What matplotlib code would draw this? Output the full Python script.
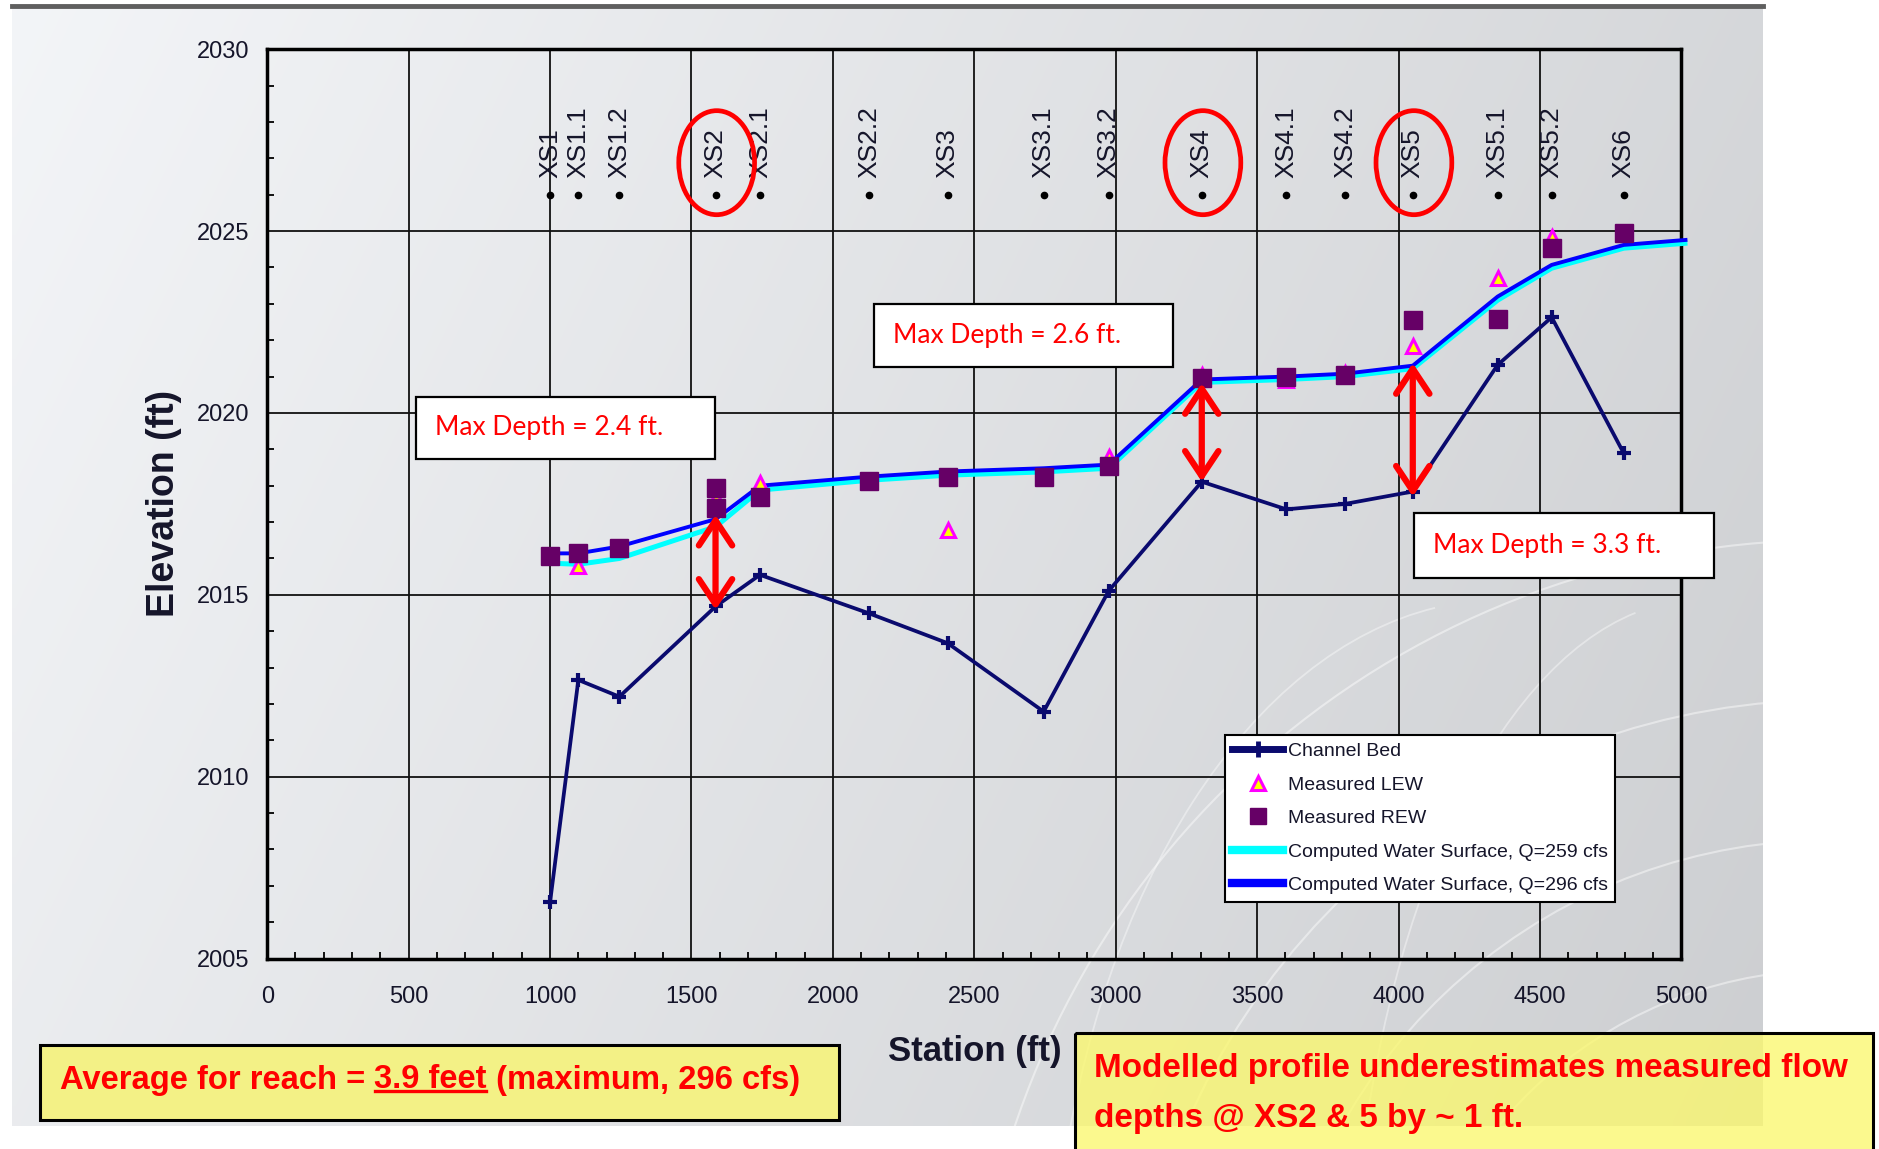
import numpy as np
import matplotlib
matplotlib.use("Agg")
import matplotlib.pyplot as plt
from matplotlib import font_manager
from matplotlib.patches import Rectangle, Ellipse, FancyArrowPatch, Arc, ArrowStyle
from matplotlib.lines import Line2D
from matplotlib.ticker import MultipleLocator

W, H = 1879, 1149

# cross sections: station (ft) and name
stations = [1000, 1100, 1245, 1585, 1742, 2128, 2406, 2745, 2975,
            3304, 3603, 3811, 4050, 4350, 4541, 4796]
xs_labels = ["XS1", "XS1.1", "XS1.2", "XS2", "XS2.1", "XS2.2", "XS3", "XS3.1", "XS3.2",
             "XS4", "XS4.1", "XS4.2", "XS5", "XS5.1", "XS5.2", "XS6"]

# channel bed elevation (ft)
bed_elev = [2006.55, 2012.66, 2012.20, 2014.68, 2015.55, 2014.49, 2013.67, 2011.79, 2015.11,
            2018.11, 2017.35, 2017.50, 2017.84, 2021.32, 2022.63, 2018.89]

# computed water surface profiles (last point is just past 5000 ft)
ws_stations = stations + [5021]
ws_296 = [2016.14, 2016.14, 2016.33, 2017.08, 2018.00, 2018.25, 2018.39, 2018.48, 2018.58,
          2020.92, 2021.00, 2021.08, 2021.30, 2023.20, 2024.07, 2024.62, 2024.76]
ws_259 = [2015.87, 2015.84, 2016.00, 2016.87, 2017.88, 2018.15, 2018.29, 2018.38, 2018.48,
          2020.84, 2020.92, 2021.00, 2021.22, 2023.10, 2023.98, 2024.53, 2024.67]

# measured right / left edge of water
rew_sta = [1000, 1100, 1245, 1585, 1585, 1742, 2128, 2406, 2745, 2975,
           3304, 3603, 3811, 4050, 4350, 4541, 4796]
rew_elev = [2016.07, 2016.14, 2016.28, 2017.95, 2017.40, 2017.68, 2018.14, 2018.25, 2018.25, 2018.54,
            2020.95, 2021.00, 2021.04, 2022.56, 2022.58, 2024.53, 2024.94]
lew_sta = [1100, 1585, 1742, 2406, 2975, 3304, 3603, 3811, 4050, 4350, 4541]
lew_elev = [2015.80, 2017.65, 2018.07, 2016.78, 2018.80, 2021.05, 2020.90, 2021.10,
            2021.84, 2023.70, 2024.85]

# max depth call-outs
depth_sta = [1585, 3304, 4050]
depth_top = [2017.20, 2020.82, 2021.37]
depth_bot = [2014.59, 2018.11, 2017.70]
depth_text = ["Max Depth = 2.4 ft.", "Max Depth = 2.6 ft.", "Max Depth = 3.3 ft."]
circled = ["XS2", "XS4", "XS5"]

BED = "#0a0a6e"
REW = "#660066"
INK = "#15152a"

installed = {f.name for f in font_manager.fontManager.ttflist}
HAS_NARROW = "Liberation Sans Narrow" in installed
NARROW = "Liberation Sans Narrow" if HAS_NARROW else "Liberation Sans"
plt.rcParams["font.family"] = ["Liberation Sans", "DejaVu Sans"]

fig = plt.figure(figsize=(W / 100, H / 100), dpi=100)
fig.patch.set_facecolor("white")

# ---- slide background panel ----
bg = fig.add_axes([0, 0, 1, 1], zorder=-5)
yy, xx = np.mgrid[0:1:120j, 0:1:240j]
g = 0.965 - 0.115 * xx - 0.035 * yy
img = np.dstack([g - 0.012, g - 0.005, g + 0.006]).clip(0, 1)
bg.imshow(img, extent=(12, 1763, 1126, 6), aspect="auto", interpolation="bilinear")
for r in (430, 560, 700, 860):
    bg.add_patch(Arc((1830, 1400), 2 * r, 2 * r, theta1=185, theta2=268,
                     color="white", lw=1.5, alpha=0.45))
for cx, w in ((1500, 900), (1700, 700)):
    bg.add_patch(Arc((cx, 1350), w, 1500, theta1=200, theta2=265,
                     color="white", lw=1.3, alpha=0.4))
bg.plot([12, 1763], [6, 6], color="#5f5f5f", lw=3.5)
bg.set_xlim(0, W)
bg.set_ylim(H, 0)
bg.axis("off")

# ---- main chart ----
ax = fig.add_axes([267.2 / W, 1 - 958.6 / H, 1414.3 / W, 909.4 / H])
ax.set_facecolor("none")

ax.plot(stations, bed_elev, color=BED, lw=2.7, marker="+", ms=10, mew=3, zorder=3)
ax.plot(ws_stations, ws_259, color="cyan", lw=3.6, zorder=4, clip_on=False,
        solid_capstyle="butt")
ax.plot(ws_stations, ws_296, color="blue", lw=2.8, zorder=5, clip_on=False,
        solid_capstyle="butt")
ax.plot(lew_sta, lew_elev, ls="none", marker="^", ms=10, mfc="yellow", mec="magenta",
        mew=2.2, zorder=6)
ax.plot(rew_sta, rew_elev, ls="none", marker="s", ms=12.5, color=REW, zorder=7)

# cross-section labels along the top
for s, lab in zip(stations, xs_labels):
    ax.plot(s, 2026.0, marker="o", ms=4.5, color="black", zorder=5)
    ax.text(s, 2026.45, lab, rotation=90, ha="center", va="bottom", fontsize=19,
            color=INK, zorder=5)
    if lab in circled:
        ax.add_patch(Ellipse((s + 4, 2026.88), 268, 2.86, fill=False, ec="red",
                             lw=3.4, zorder=8))

# depth arrows
for s, top, bot in zip(depth_sta, depth_top, depth_bot):
    ax.add_patch(FancyArrowPatch((s, bot), (s, top),
                                 arrowstyle=ArrowStyle("<->", head_length=1.8, head_width=1.2),
                                 mutation_scale=10, color="red", lw=4.5,
                                 shrinkA=0, shrinkB=0, capstyle="round",
                                 joinstyle="round", zorder=9))

ax.set_xlim(0, 5000)
ax.set_ylim(2005, 2030)
ax.set_xticks(range(0, 5001, 500))
ax.set_yticks(range(2005, 2031, 5))
ax.xaxis.set_minor_locator(MultipleLocator(100))
ax.yaxis.set_minor_locator(MultipleLocator(1))
tick_fs = 20 if HAS_NARROW else 17
ax.tick_params(which="major", length=0, labelsize=tick_fs, labelcolor=INK)
ax.tick_params(axis="x", which="major", pad=20)
ax.tick_params(axis="y", which="major", pad=13)
ax.tick_params(which="minor", direction="in", length=5, width=1.3,
               top=False, right=False, color="black")
for lab in ax.get_xticklabels() + ax.get_yticklabels():
    lab.set_family(NARROW)
ax.grid(True, which="major", color="#111111", lw=1.3)
for sp in ax.spines.values():
    sp.set_linewidth(2.5)
    sp.set_color("black")

ax.set_xlabel("Station (ft)", fontsize=25, fontweight="bold", color=INK)
ax.xaxis.set_label_coords(0.5, (958.6 - 1052) / 909.4)
ax.xaxis.label.set_va("center")
ax.set_ylabel("Elevation (ft)", fontsize=27, fontweight="bold", color=INK)
ax.yaxis.set_label_coords((164 - 267.2) / 1414.3, 0.5)
ax.yaxis.label.set_va("center")

handles = [
    Line2D([], [], color=BED, lw=5, marker="+", ms=12, mew=3.5),
    Line2D([], [], ls="none", marker="^", ms=10, mfc="yellow", mec="magenta", mew=2.2),
    Line2D([], [], ls="none", marker="s", ms=12, color=REW),
    Line2D([], [], color="cyan", lw=6),
    Line2D([], [], color="blue", lw=6),
]
labels = ["Channel Bed", "Measured LEW", "Measured REW",
          "Computed Water Surface, Q=259 cfs", "Computed Water Surface, Q=296 cfs"]
leg = ax.legend(handles, labels, loc="upper left", bbox_to_anchor=(1225 / W, 1 - 735 / H),
                bbox_transform=fig.transFigure, borderaxespad=0, fancybox=False,
                edgecolor="black", framealpha=1, prop={"family": "Liberation Sans", "size": 14},
                handlelength=2.6, handletextpad=0.25, labelspacing=0.82, borderpad=0.38)
leg.get_frame().set_linewidth(1.5)
for t in leg.get_texts():
    t.set_color(INK)
leg.set_zorder(10)

# ---- overlay call-out boxes (pixel coordinates) ----
ov = fig.add_axes([0, 0, 1, 1], zorder=10)
ov.set_xlim(0, W)
ov.set_ylim(H, 0)
ov.axis("off")

depth_boxes = [(416, 397, 715, 459), (874, 304, 1173, 367), (1414, 513, 1714, 578)]
for (x0, y0, x1, y1), txt in zip(depth_boxes, depth_text):
    ov.add_patch(Rectangle((x0, y0), x1 - x0, y1 - y0, fc="white", ec="black", lw=1.6))
    ov.text(x0 + 19, (y0 + y1) / 2, txt, color="red", fontsize=19, family="Lato",
            ha="left", va="center")

ov.add_patch(Rectangle((40, 1045), 799, 75, fc="#f3f186", ec="black", lw=2.2))
ov.add_patch(Rectangle((1075, 1033), 798, 130, fc="#fbf86e", alpha=0.78, ec="none"))
ov.add_patch(Rectangle((1075, 1033), 798, 130, fill=False, ec="black", lw=2.2))

bold = dict(color="red", fontweight="bold", family=NARROW, fontsize=25)
t1 = ov.text(60, 1080, "Average for reach = ", ha="left", va="center", **bold)
t2 = ov.annotate("3.9 feet", xy=(1, 0.5), xycoords=t1, ha="left", va="center", **bold)
t3 = ov.annotate(" (maximum, 296 cfs)", xy=(1, 0.5), xycoords=t2, ha="left", va="center", **bold)
r1 = ov.text(1094, 1069, "Modelled profile underestimates measured flow", ha="left",
             va="center", **bold)
r2 = ov.text(1094, 1118, "depths @ XS2 & 5 by ~ 1 ft.", ha="left", va="center", **bold)

# size the bold call-out text to the widths of the original boxes
fig.canvas.draw()
rend = fig.canvas.get_renderer()
span = t3.get_window_extent(rend).x1 - t1.get_window_extent(rend).x0
for t in (t1, t2, t3):
    t.set_fontsize(25 * 740 / span)
w_r = r1.get_window_extent(rend).width
for t in (r1, r2):
    t.set_fontsize(25 * 751 / w_r)
fig.canvas.draw()
bb = t2.get_window_extent(rend)
ov.plot([bb.x0 + 1, bb.x1 - 1], [H - bb.y0 - 5, H - bb.y0 - 5], color="red", lw=2.4)

fig.savefig("out.png", dpi=100)
